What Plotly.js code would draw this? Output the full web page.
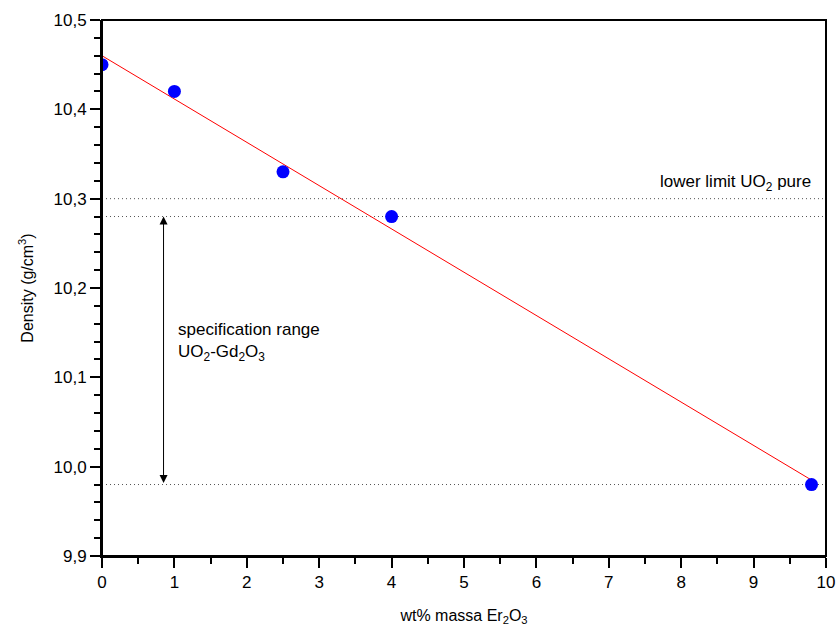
<!DOCTYPE html>
<html>
<head>
<meta charset="utf-8">
<script src="https://cdn.plot.ly/plotly-3.0.1.min.js"></script>
<style>html,body{margin:0;padding:0;background:#fff;}#chart{width:836px;height:626px;}</style>
</head>
<body>
<div id="chart"></div>
<script>
const erContent = [0, 1, 2.5, 4, 9.8];
const density = [10.45, 10.42, 10.33, 10.28, 9.98];
const fitX = [0, 9.8];
const fitY = [10.46, 9.985];
const limitX = [0, 10];
const lowerLimitPure = 10.30;
const specUpper = 10.28;
const specLower = 9.98;
const arrowX = 0.85;

const FONT = 'Liberation Sans, Arial, sans-serif';
const DOT = {color: '#555', width: 1, dash: '1px,3px'};
const NONE = 'rgba(0,0,0,0)';

const traces = [
  {x: limitX, y: [lowerLimitPure, lowerLimitPure], mode: 'lines', line: DOT, hoverinfo: 'skip'},
  {x: limitX, y: [specUpper, specUpper], mode: 'lines', line: DOT, hoverinfo: 'skip'},
  {x: limitX, y: [specLower, specLower], mode: 'lines', line: DOT, hoverinfo: 'skip'},
  {x: fitX, y: fitY, mode: 'lines', line: {color: '#ff0000', width: 1}},
  {x: erContent, y: density, mode: 'markers', marker: {color: '#0000ff', size: 13}}
];

const layout = {
  width: 836, height: 626,
  margin: {l: 102, r: 10, t: 20, b: 70},
  paper_bgcolor: '#fff', plot_bgcolor: '#fff',
  showlegend: false,
  separators: ', ',
  font: {family: FONT, size: 17, color: '#000'},
  xaxis: {
    range: [0, 10], dtick: 1, tick0: 0,
    gridcolor: NONE, zerolinecolor: NONE,
    showline: true, linecolor: '#000', linewidth: 2,
    ticks: 'outside', ticklen: 10, tickwidth: 2, tickcolor: '#000',
    minor: {dtick: 0.5, ticks: 'outside', ticklen: 6, tickwidth: 2, tickcolor: '#000', gridcolor: NONE},
    tickfont: {family: FONT, size: 17},
    title: {text: 'wt% massa Er<sub>2</sub>O<sub>3</sub>', font: {family: FONT, size: 16}, standoff: 18}
  },
  yaxis: {
    range: [9.9, 10.5], dtick: 0.1, tick0: 9.9, tickformat: '.1f',
    gridcolor: NONE, zerolinecolor: NONE,
    showline: true, linecolor: '#000', linewidth: 2,
    ticks: 'outside', ticklen: 10, tickwidth: 2, tickcolor: '#000',
    minor: {dtick: 0.02, ticks: 'outside', ticklen: 6, tickwidth: 2, tickcolor: '#000', gridcolor: NONE},
    tickfont: {family: FONT, size: 17},
    title: {text: 'Density (g/cm<sup>3</sup>)', font: {family: FONT, size: 16}, standoff: 16}
  },
  shapes: [
    {type: 'rect', xref: 'paper', yref: 'paper', x0: 0, x1: 1, y0: 0, y1: 1, line: {color: '#000', width: 2}, layer: 'above'}
  ],
  annotations: [
    {x: arrowX, y: specUpper, ax: arrowX, ay: specLower, xref: 'x', yref: 'y', axref: 'x', ayref: 'y',
     showarrow: true, arrowhead: 2, startarrowhead: 2, arrowside: 'end+start', arrowsize: 1.6, arrowwidth: 1, arrowcolor: '#000', text: ''},
    {x: 1.02, y: 10.14, xref: 'x', yref: 'y', xanchor: 'left', yanchor: 'middle', align: 'left', showarrow: false,
     text: 'specification range<br>UO<sub>2</sub>-Gd<sub>2</sub>O<sub>3</sub>', font: {family: FONT, size: 17}},
    {x: 9.82, y: 10.317, xref: 'x', yref: 'y', xanchor: 'right', yanchor: 'middle', showarrow: false,
     text: 'lower limit UO<sub>2</sub> pure', font: {family: FONT, size: 17}}
  ]
};

Plotly.newPlot('chart', traces, layout, {displayModeBar: false});
</script>
</body>
</html>
